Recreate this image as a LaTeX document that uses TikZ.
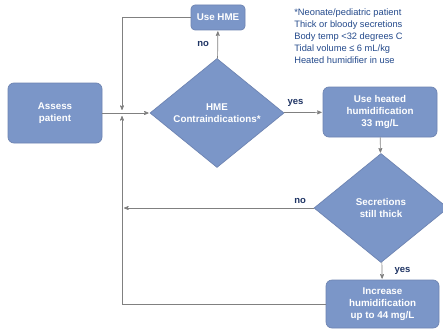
\documentclass[tikz,border=0pt]{standalone}
\usepackage{fontspec}
\setmainfont{Liberation Sans}
\usetikzlibrary{arrows,shapes.geometric,positioning}

\definecolor{boxblue}{RGB}{123,150,200}
\definecolor{boxedge}{RGB}{110,132,178}
\definecolor{noteblue}{RGB}{36,74,140}
\definecolor{labnavy}{RGB}{31,52,100}
\definecolor{linegray}{RGB}{128,128,128}

\tikzset{
  stepbox/.style={draw=boxedge, fill=boxblue, rounded corners=6pt, text=white,
    font=\fontsize{9.8}{12}\selectfont\bfseries, align=center, inner sep=0pt},
  decision/.style={diamond, draw=boxedge, fill=boxblue, text=white, aspect=1.23,
    font=\fontsize{9.8}{12}\selectfont\bfseries, align=center, inner sep=0pt,
    minimum width=134pt, minimum height=109pt},
  answer/.style={text=labnavy, font=\fontsize{9.5}{11}\selectfont\bfseries}
}

\begin{document}
\begin{tikzpicture}[x=1pt,y=-1pt,->,>=stealth',shorten >=1pt,line width=0.7pt,draw=linegray]
      \clip (0,0) rectangle (443,329);
      \fill[white] (0,0) rectangle (443,329);
      \node[stepbox, minimum width=94pt, minimum height=60pt] (A) at (55,113) {Assess\\patient};
      \node[stepbox, rounded corners=4pt, minimum width=54pt, minimum height=25pt] (B) at (218,17.5) {Use HME};
      \node[decision] (C) at (217,113) {HME\\Contraindications*};
      \node[stepbox, minimum width=114pt, minimum height=50pt] (D) at (380,112) {Use heated\\humidification\\33 mg/L};
      \node[decision] (E) at (381,208) {Secretions\\still thick};
      \node[stepbox, minimum width=113pt, minimum height=48pt] (F) at (382.5,304) {Increase\\humidification\\up to 44 mg/L};
      \node[anchor=north west, text=noteblue, align=left, inner sep=0pt,
        font=\fontsize{9.3}{12}\selectfont] (N) at (294,8)
        {*Neonate/pediatric patient\\Thick or bloody secretions\\Body temp <32 degrees C\\Tidal volume ≤ 6 mL/kg\\Heated humidifier in use};
      \coordinate (J) at (122,113);
      \coordinate (K) at (122,208);
      \path[->] (A) edge (C)
      (C) edge node[answer, left=5pt] {no} (B)
      (C) edge node[answer, pos=0.3, above=2pt] {yes} (D)
      (D) edge (E)
      (E) edge[shorten >=2pt] node[answer, pos=0.07, above=1pt] {no} (K)
      (E) edge node[answer, right=9pt] {yes} (F);
      \draw[shorten >=3pt] (B.west) -| (J);
      \draw[shorten >=3pt] (F.west) -| (J);
    \end{tikzpicture}
\end{document}
